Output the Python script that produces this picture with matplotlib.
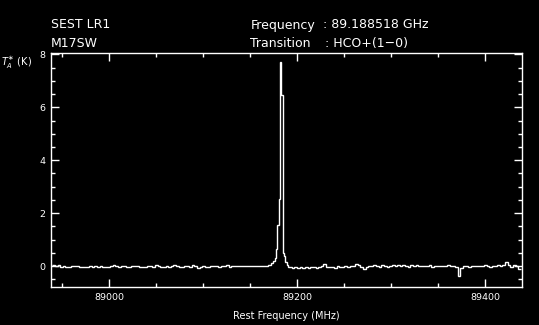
import numpy as np
import matplotlib
matplotlib.use("Agg")
import matplotlib.pyplot as plt
from matplotlib.ticker import MultipleLocator

# Channel values (K)
# left baseline: 2.8 MHz bins from 88939.4 to 89174.6
left_vals = [
    0.06, 0.02, 0.04, -0.05, 0.01, -0.03, -0.02, 0.00, 0.00, 0.01,
    -0.04, -0.02, -0.05, -0.03, -0.01, -0.04, 0.00, -0.02, 0.02, -0.03,
    -0.05, -0.02, 0.00, 0.03, -0.01, -0.04, -0.01, 0.00, -0.02, -0.03,
    0.01, -0.01, 0.00, -0.03, -0.05, -0.02, 0.02, -0.01, -0.04, 0.03,
    0.00, -0.03, -0.02, 0.01, -0.04, 0.02, 0.03, 0.00, -0.03, -0.05,
    -0.01, 0.02, -0.02, 0.03, 0.00, -0.06, -0.02, 0.01, -0.02, -0.04,
    0.00, 0.02, -0.01, -0.03, 0.01, 0.00, 0.03, -0.02, 0.00, 0.01,
    -0.01, 0.00, 0.00, 0.01, -0.01, 0.00, 0.00, 0.00, -0.01, 0.00,
    0.01, 0.02, 0.05, 0.10,
]
# line: 1.4 MHz bins from 89174.6 to 89191.4
peak_vals = [0.18, 0.30, 0.65, 1.55, 2.55, 7.70, 6.45, 0.50, 0.40, 0.15, 0.05, -0.02]
# right baseline: 2.8 MHz bins from 89191.4 to 89437.8
right_vals = [
    -0.04, -0.06, -0.03, -0.07, -0.05, -0.08, -0.04, -0.06, -0.02, -0.05,
    -0.07, -0.03, 0.00, 0.08, -0.02, -0.05, -0.03, -0.06, -0.01, -0.04,
    -0.02, 0.00, -0.03, 0.02, -0.01, 0.09, 0.03, -0.02, -0.12, -0.04,
    0.02, -0.01, 0.03, 0.00, -0.02, 0.04, 0.01, -0.03, 0.02, 0.05,
    0.00, 0.03, -0.01, 0.04, 0.02, -0.02, 0.03, 0.00, 0.04, 0.01,
    -0.01, 0.02, 0.00, 0.03, -0.02, 0.01, 0.00, 0.02, -0.01, 0.01,
    0.03, 0.00, 0.02, -0.02, -0.36, -0.08, 0.00, 0.02, -0.03, 0.01,
    0.00, 0.02, 0.01, -0.01, 0.03, 0.00, -0.02, 0.01, 0.02, 0.04,
    0.00, 0.06, 0.15, 0.05, -0.02, 0.04, 0.01, -0.10,
]

edges = np.concatenate([
    88939.4 + 2.8 * np.arange(len(left_vals)),
    89174.6 + 1.4 * np.arange(len(peak_vals)),
    89191.4 + 2.8 * np.arange(len(right_vals) + 1),
])
values = np.array(left_vals + peak_vals + right_vals)

W, H = 539, 325
fig = plt.figure(figsize=(W / 100, H / 100), dpi=100, facecolor="black")
ax = fig.add_axes([51 / W, 1 - 287.3 / H, (521.7 - 51) / W, (287.3 - 52.5) / H])
ax.set_facecolor("black")

ax.stairs(values, edges, baseline=None, color="white", linewidth=1.0)

ax.set_xlim(88938, 89438.7)
ax.set_ylim(-0.8, 8.07)

ax.xaxis.set_major_locator(MultipleLocator(200))
ax.xaxis.set_minor_locator(MultipleLocator(50))
ax.yaxis.set_major_locator(MultipleLocator(2))
ax.yaxis.set_minor_locator(MultipleLocator(0.5))

for s in ax.spines.values():
    s.set_color("white")
    s.set_linewidth(1.0)
ax.tick_params(which="both", direction="in", colors="white",
               top=True, right=True, width=1.0, labelsize=6.8, pad=4.3)
ax.tick_params(which="major", length=5.5)
ax.tick_params(which="minor", length=3.0)

ax.set_xlabel("Rest Frequency (MHz)", color="white", fontsize=7, labelpad=6)

txt = dict(color="white", fontsize=9, va="center", ha="left")
fig.text(51 / W, 1 - 25 / H, "SEST LR1", **txt)
fig.text(51 / W, 1 - 43.5 / H, "M17SW", **txt)
fig.text(251 / W, 1 - 25 / H, "Frequency", **txt)
fig.text(323 / W, 1 - 25 / H, ": 89.188518 GHz", **txt)
fig.text(250 / W, 1 - 43.5 / H, "Transition", **txt)
fig.text(325 / W, 1 - 43.5 / H, ": HCO+(1\u22120)", **txt)
fig.text(1 / W, 1 - 63 / H, r"$T_A^{\ast}$ (K)", color="white", fontsize=7,
         va="center", ha="left")

fig.savefig("out.png", dpi=100, facecolor="black")
